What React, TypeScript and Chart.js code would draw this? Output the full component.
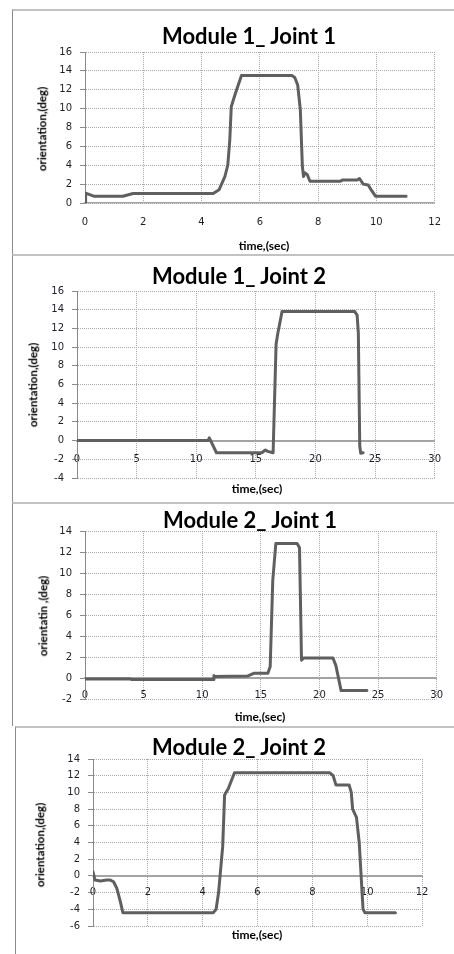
import React, { useEffect, useRef } from "react";
import { Chart, registerables } from "chart.js";

Chart.register(...registerables);

// ---- Data ----
const m1j1Time = [0, 0.02, 0.3, 1.3, 1.65, 4.4, 4.6, 4.8, 4.9, 4.97, 5.02, 5.15, 5.37, 5.5, 7.1, 7.2, 7.3, 7.39, 7.46, 7.5, 7.55, 7.63, 7.72, 8.75, 8.85, 9.35, 9.42, 9.55, 9.72, 9.8, 9.97, 11.02];
const m1j1Angle = [0, 1.05, 0.72, 0.72, 1.0, 1.0, 1.4, 2.8, 4.0, 6.7, 10.2, 11.5, 13.5, 13.5, 13.5, 13.3, 12.5, 9.9, 3.9, 2.8, 3.2, 3.0, 2.3, 2.3, 2.45, 2.45, 2.6, 2.0, 1.9, 1.5, 0.72, 0.72];

const m1j2Time = [0, 11.0, 11.1, 11.7, 15.5, 15.8, 16.0, 16.45, 16.7, 16.85, 17.2, 23.3, 23.5, 23.6, 23.72, 23.8, 24.0];
const m1j2Angle = [0, 0, 0.3, -1.3, -1.3, -1.0, -1.15, -1.3, 10.3, 11.5, 13.8, 13.8, 13.4, 11.5, -0.6, -1.35, -1.3];

const m2j1Time = [0, 3.9, 4.0, 10.95, 11.0, 11.05, 13.9, 14.4, 15.6, 15.8, 16.02, 16.28, 18.1, 18.3, 18.42, 18.47, 18.65, 21.15, 21.4, 21.85, 24.05];
const m2j1Angle = [-0.1, -0.1, -0.15, -0.15, 0.25, 0.15, 0.2, 0.45, 0.45, 1.1, 9.3, 12.8, 12.8, 12.4, 5.0, 1.7, 1.9, 1.9, 1.2, -1.2, -1.2];

const m2j2Time = [0, 0.07, 0.27, 0.5, 0.63, 0.75, 0.87, 0.99, 1.09, 4.39, 4.49, 4.58, 4.73, 4.8, 4.94, 5.16, 8.64, 8.76, 8.86, 9.34, 9.42, 9.47, 9.61, 9.71, 9.85, 9.92, 11.03];
const m2j2Angle = [0.5, -0.48, -0.6, -0.5, -0.5, -0.7, -1.5, -3.0, -4.4, -4.4, -4.0, -2.0, 3.5, 9.7, 10.5, 12.35, 12.35, 12.0, 10.9, 10.9, 10.0, 8.0, 7.0, 4.0, -4.0, -4.4, -4.4];

const titles = ["Module 1_ Joint 1", "Module 1_ Joint 2", "Module 2_ Joint 1", "Module 2_ Joint 2"];
const yTitles = ["orientation,(deg)", "orientation,(deg)", "orientatin ,(deg)", "orientation,(deg)"];
const xTitle = "time,(sec)";
const xMaxes = [12, 30, 30, 12];
const xSteps = [2, 5, 5, 2];
const yMins = [0, -4, -2, -6];
const yMaxes = [16, 16, 14, 14];
const yStep = 2;

type Geo = {
  boxL: number; boxT: number; boxB: number;
  plotL: number; plotR: number; plotT: number; plotB: number;
  titleX: number; titleY: number; xtX: number; xtY: number; ytX: number; ytY: number;
  labelOff: number;
};

const geos: Geo[] = [
  { boxL: 12, boxT: 9, boxB: 254, plotL: 85, plotR: 444, plotT: 52, plotB: 203, titleX: 249, titleY: 36, xtX: 264, xtY: 246, ytX: 42, ytY: 129, labelOff: 19 },
  { boxL: 12, boxT: 254, boxB: 502, plotL: 77, plotR: 439, plotT: 291, plotB: 478, titleX: 239, titleY: 276, xtX: 257, xtY: 489, ytX: 33, ytY: 385, labelOff: 19 },
  { boxL: 12, boxT: 502, boxB: 726, plotL: 85, plotR: 437, plotT: 531, plotB: 699, titleX: 250, titleY: 520, xtX: 260, xtY: 717, ytX: 43, ytY: 616, labelOff: 17 },
  { boxL: 15, boxT: 726, boxB: 954, plotL: 93, plotR: 422, plotT: 759, plotB: 926, titleX: 239, titleY: 747, xtX: 257, xtY: 935, ytX: 40, ytY: 845, labelOff: 17 },
];

const series = [
  [m1j1Time, m1j1Angle],
  [m1j2Time, m1j2Angle],
  [m2j1Time, m2j1Angle],
  [m2j2Time, m2j2Angle],
];

const PAGE_W = 454;
const Y_AXIS_W = 50;
const X_AXIS_H = 30;
const TICK_FONT = { family: "'DejaVu Sans', Verdana, sans-serif", size: 10 };
const TICK_COLOR = "#1e1e2a";
const GRID_COLOR = "#a8a8a8";

function Panel({ idx }: { idx: number }) {
  const ref = useRef<HTMLCanvasElement | null>(null);
  const g = geos[idx];
  const canvasH = g.boxB - g.boxT;

  useEffect(() => {
    if (!ref.current) return;
    const [ts, vs] = series[idx];
    const pts = ts.map((t, i) => ({ x: t, y: vs[i] }));
    const yMin = yMins[idx];
    const floating = yMin < 0;
    const bottomPad = canvasH - (g.plotB - g.boxT) - (floating ? 0 : X_AXIS_H);
    const chart = new Chart(ref.current, {
      type: "line",
      data: {
        datasets: [
          {
            data: pts,
            borderColor: "#5f5f5f",
            borderWidth: 3,
            pointRadius: 0,
            fill: false,
            tension: 0,
            borderJoinStyle: "round",
            borderCapStyle: "round",
          },
        ],
      },
      options: {
        animation: false,
        responsive: false,
        events: [],
        layout: {
          padding: {
            left: g.plotL - Y_AXIS_W,
            right: PAGE_W - g.plotR,
            top: g.plotT - g.boxT,
            bottom: bottomPad,
          },
        },
        plugins: {
          legend: { display: false },
          title: { display: false },
          tooltip: { enabled: false },
        },
        scales: {
          x: {
            type: "linear",
            min: 0,
            max: xMaxes[idx],
            position: floating ? ({ y: 0 } as any) : "bottom",
            afterFit: (s: any) => {
              s.height = floating ? 0 : X_AXIS_H;
            },
            ticks: {
              stepSize: xSteps[idx],
              autoSkip: false,
              maxRotation: 0,
              font: TICK_FONT,
              color: TICK_COLOR,
              padding: g.labelOff - 6,
            },
            grid: { color: GRID_COLOR, lineWidth: 1, drawTicks: false },
            border: { display: true, color: "#a4a4a4", width: floating ? 2 : 1.5, dash: [1, 1] },
          },
          y: {
            type: "linear",
            min: yMin,
            max: yMaxes[idx],
            afterFit: (s: any) => {
              s.width = Y_AXIS_W;
            },
            ticks: {
              stepSize: yStep,
              autoSkip: false,
              font: TICK_FONT,
              color: TICK_COLOR,
              padding: 8,
            },
            grid: {
              color: GRID_COLOR,
              lineWidth: 1,
              drawTicks: true,
              tickLength: 5,
              tickColor: "#8a8a8a",
              tickBorderDash: [],
            },
            border: { display: true, color: "#8a8a8a", width: 1, dash: [1, 1] },
          },
        },
      },
    });
    return () => chart.destroy();
  }, [idx]);

  const center: React.CSSProperties = {
    position: "absolute",
    transform: "translate(-50%, -50%)",
    whiteSpace: "nowrap",
    color: "#000",
    fontFamily: "Lato, 'Liberation Sans', sans-serif",
    fontWeight: 700,
    lineHeight: 1,
  };

  return (
    <>
      <div
        style={{
          position: "absolute",
          left: g.boxL,
          top: g.boxT,
          width: PAGE_W - g.boxL,
          height: canvasH,
          boxSizing: "border-box",
          borderLeft: "1px solid #8c8c8c",
          borderTop: "2px solid #c2c2c2",
        }}
      />
      <canvas
        ref={ref}
        width={PAGE_W}
        height={canvasH}
        style={{ position: "absolute", left: 0, top: g.boxT, width: PAGE_W, height: canvasH }}
      />
      <div style={{ ...center, left: g.titleX, top: g.titleY, fontSize: 22 }}>{titles[idx]}</div>
      <div style={{ ...center, left: g.xtX, top: g.xtY, fontSize: 12 }}>{xTitle}</div>
      <div
        style={{
          ...center,
          left: g.ytX,
          top: g.ytY,
          fontSize: 11.5,
          transform: "translate(-50%, -50%) rotate(-90deg)",
        }}
      >
        {yTitles[idx]}
      </div>
    </>
  );
}

export default function App() {
  return (
    <div>
      {geos.map((_, i) => (
        <Panel key={i} idx={i} />
      ))}
    </div>
  );
}
